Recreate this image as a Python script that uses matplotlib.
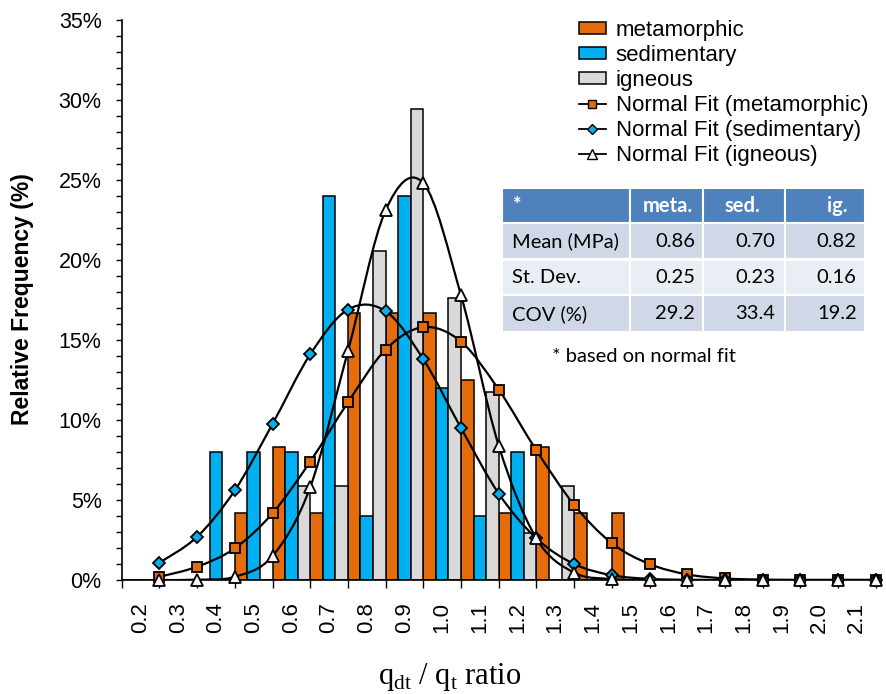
import matplotlib
matplotlib.use('Agg')
import matplotlib.pyplot as plt
from matplotlib.path import Path
from matplotlib.patches import PathPatch, Rectangle, Patch
from matplotlib.lines import Line2D
import numpy as np

plt.rcParams['font.family'] = ['Liberation Sans', 'DejaVu Sans']
plt.rcParams['mathtext.fontset'] = 'custom'
plt.rcParams['mathtext.rm'] = 'Liberation Serif'

# ---------------- data ----------------
categories = ['0.2', '0.3', '0.4', '0.5', '0.6', '0.7', '0.8', '0.9', '1.0', '1.1',
              '1.2', '1.3', '1.4', '1.5', '1.6', '1.7', '1.8', '1.9', '2.0', '2.1']
metamorphic = [0, 0, 0, 4.17, 8.33, 4.17, 16.67, 16.67, 16.67, 12.5,
               4.17, 8.33, 4.17, 4.17, 0, 0, 0, 0, 0, 0]
sedimentary = [0, 0, 8, 8, 8, 24, 4, 24, 12, 4,
               8, 0, 0, 0, 0, 0, 0, 0, 0, 0]
igneous = [0, 0, 0, 0, 5.88, 5.88, 20.59, 29.41, 17.65, 11.76,
           2.94, 5.88, 0, 0, 0, 0, 0, 0, 0, 0]
fit_meta = [0.2, 0.83, 1.98, 4.17, 7.4, 11.1, 14.4, 15.8, 14.9, 11.9,
            8.1, 4.7, 2.3, 1.0, 0.35, 0.1, 0.02, 0, 0, 0]
fit_sed = [1.08, 2.7, 5.6, 9.75, 14.1, 16.9, 16.8, 13.8, 9.5, 5.4,
           2.6, 1.0, 0.3, 0.07, 0.01, 0, 0, 0, 0, 0]
fit_ign = [0.0, 0.02, 0.2, 1.5, 5.8, 14.3, 23.1, 24.8, 17.8, 8.4,
           2.6, 0.46, 0.06, 0, 0, 0, 0, 0, 0, 0]

table_cols = ['*', 'meta.', 'sed.', 'ig.']
table_rows = ['Mean (MPa)', 'St. Dev.', 'COV (%)']
table_vals = [['0.86', '0.70', '0.82'],
              ['0.25', '0.23', '0.16'],
              ['29.2', '33.4', '19.2']]
footnote = '* based on normal fit'

C_META = '#E46C0A'
C_SED = '#00B0F0'
C_IGN = '#D9D9D9'

W, H = 886, 694
fig = plt.figure(figsize=(W / 100, H / 100), dpi=100)
ax = fig.add_axes([121.7 / W, 114 / H, 754 / W, 560 / H])

x = np.arange(len(categories))
bw = 1 / 3
ax.bar(x - bw, metamorphic, width=bw, color=C_META, edgecolor='black', linewidth=1.1, zorder=2)
ax.bar(x, sedimentary, width=bw, color=C_SED, edgecolor='black', linewidth=1.1, zorder=2)
ax.bar(x + bw, igneous, width=bw, color=C_IGN, edgecolor='black', linewidth=1.1, zorder=2)


def smooth_path(xs, ys):
    pts = np.column_stack([xs, ys]).astype(float)
    n = len(pts)
    verts = [pts[0]]
    codes = [Path.MOVETO]
    for i in range(n - 1):
        p0 = pts[i - 1] if i > 0 else pts[i]
        p1 = pts[i]
        p2 = pts[i + 1]
        p3 = pts[i + 2] if i + 2 < n else pts[i + 1]
        c1 = p1 + (p2 - p0) / 6.0
        c2 = p2 - (p3 - p1) / 6.0
        verts += [c1, c2, p2]
        codes += [Path.CURVE4] * 3
    return Path(verts, codes)


xf = x + 0.5
for vals, mk, fc, ms in [(fit_meta, 's', C_META, 7),
                         (fit_sed, 'D', C_SED, 6.5),
                         (fit_ign, '^', '#F7F7F7', 8.5)]:
    ax.add_patch(PathPatch(smooth_path(xf, vals), facecolor='none', edgecolor='black',
                           linewidth=1.6, zorder=3))
    ax.plot(xf, vals, linestyle='none', marker=mk, markersize=ms, markerfacecolor=fc,
            markeredgecolor='black', markeredgewidth=1.3, zorder=4, clip_on=False)

ax.set_xlim(-0.5, 19.5)
ax.set_ylim(0, 35)
for s in ['top', 'right']:
    ax.spines[s].set_visible(False)
ax.spines['left'].set_linewidth(1.2)
ax.spines['bottom'].set_linewidth(1.2)

ax.set_yticks(np.arange(0, 36, 5))
ax.set_yticklabels([f'{v}%' for v in range(0, 36, 5)])
ax.set_yticks(np.arange(0, 36, 1), minor=True)
ax.tick_params(axis='y', which='both', direction='out', length=4.5, width=1.0,
               labelsize=15.5, pad=10, colors='black')

ax.set_xticks(x)
ax.set_xticklabels(categories, rotation=90)
ax.set_xticks(np.arange(-0.5, 20, 1), minor=True)
ax.tick_params(axis='x', which='major', length=0, labelsize=16, pad=16)
ax.tick_params(axis='x', which='minor', direction='out', length=6, width=1.0)

fig.text(23 / W, 1 - 299 / H, 'Relative Frequency (%)', rotation=90, fontsize=16.5,
         fontweight='bold', ha='center', va='center')
fig.text(449.5 / W, 1 - 684 / H, r'$\mathrm{q}_{\mathrm{dt}}$ / $\mathrm{q}_{\mathrm{t}}$ ratio',
         fontsize=22, family='Liberation Serif', ha='center', va='baseline')

# legend
handles = [Patch(facecolor=C_META, edgecolor='black', linewidth=1.1),
           Patch(facecolor=C_SED, edgecolor='black', linewidth=1.1),
           Patch(facecolor=C_IGN, edgecolor='black', linewidth=1.1),
           Line2D([], [], color='black', lw=1.3, marker='s', markersize=6,
                  markerfacecolor=C_META, markeredgecolor='black'),
           Line2D([], [], color='black', lw=1.3, marker='D', markersize=5.5,
                  markerfacecolor=C_SED, markeredgecolor='black'),
           Line2D([], [], color='black', lw=1.3, marker='^', markersize=7,
                  markerfacecolor='#F7F7F7', markeredgecolor='black')]
labels = ['metamorphic', 'sedimentary', 'igneous', 'Normal Fit (metamorphic)',
          'Normal Fit (sedimentary)', 'Normal Fit (igneous)']
fig.legend(handles, labels, loc='upper left', bbox_to_anchor=(579 / W, 1 - 20 / H),
           frameon=False, fontsize=16, borderpad=0, borderaxespad=0, labelspacing=0.18,
           handlelength=1.2, handleheight=0.45, handletextpad=0.45)

# table
col_edges = [501.7, 630, 703.3, 785, 865]
row_edges = [188, 223.5, 259.5, 295.5, 332]
row_colors = ['#4F81BD', '#D0D8E8', '#E9EDF4', '#D0D8E8']
TFONT = 'Lato'
for r in range(4):
    for c in range(4):
        x0, x1 = col_edges[c], col_edges[c + 1]
        y0, y1 = row_edges[r], row_edges[r + 1]
        fig.add_artist(Rectangle((x0 / W, 1 - y1 / H), (x1 - x0) / W, (y1 - y0) / H,
                                 transform=fig.transFigure, facecolor=row_colors[r],
                                 edgecolor='white', linewidth=1.5))
header_cx = [511.7, 668, 742, 837.5]
hy = (row_edges[0] + row_edges[1]) / 2
for c, t in enumerate(table_cols):
    fig.text(header_cx[c] / W, 1 - hy / H, t, color='white', fontweight='bold', fontsize=14.5,
             family=TFONT, ha='left' if c == 0 else 'center', va='center')
val_right = [695, 775, 856.7]
for r in range(3):
    cy = (row_edges[r + 1] + row_edges[r + 2]) / 2
    fig.text(511.7 / W, 1 - cy / H, table_rows[r], fontsize=14.5, family=TFONT,
             ha='left', va='center', color='black')
    for c in range(3):
        fig.text(val_right[c] / W, 1 - cy / H, table_vals[r][c], fontsize=14.5, family=TFONT,
                 ha='right', va='center', color='black')
fig.text(551.7 / W, 1 - 356 / H, footnote, fontsize=14.5, family=TFONT, ha='left',
         va='center', color='black')

fig.savefig('out.png', dpi=100)
